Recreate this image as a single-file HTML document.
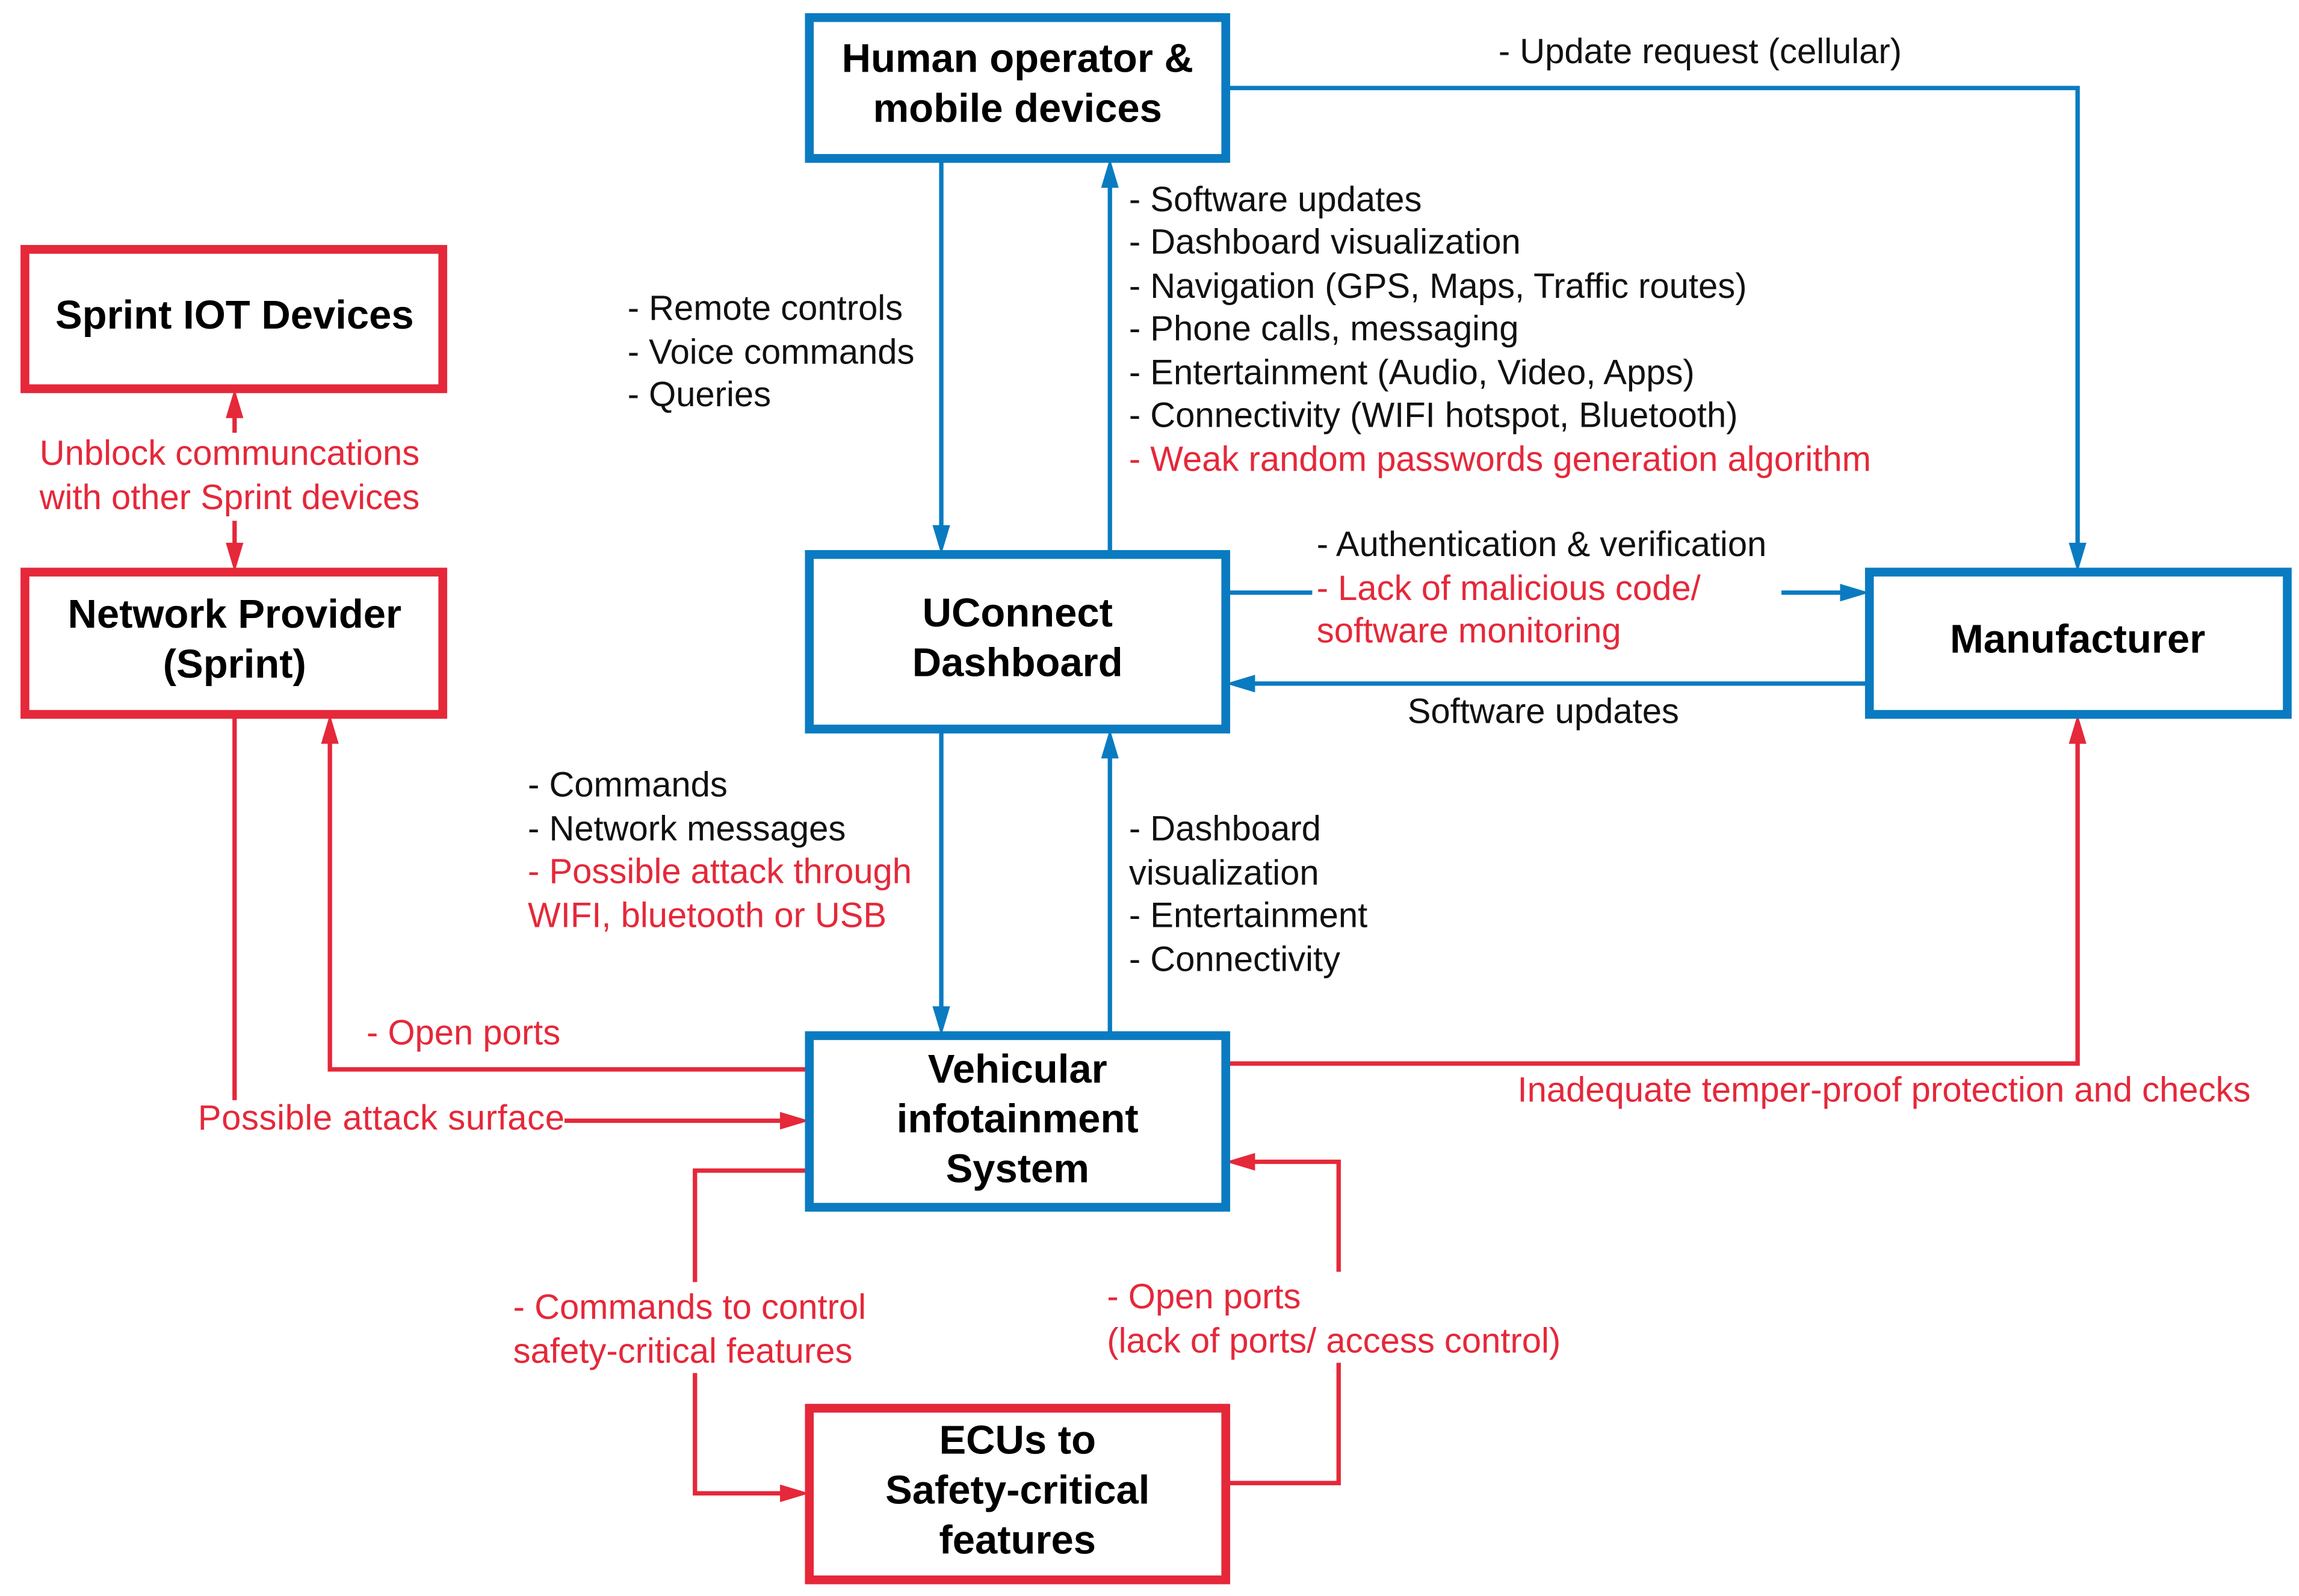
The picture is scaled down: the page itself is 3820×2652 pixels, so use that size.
<!DOCTYPE html>
<html><head><meta charset="utf-8"><style>html,body{margin:0;padding:0;background:#fff}svg{display:block}</style></head>
<body>
<svg width="3820" height="2652" viewBox="0 0 1568 1088" preserveAspectRatio="none" xmlns="http://www.w3.org/2000/svg" font-family="Liberation Sans, Arial, sans-serif">
<style>
.bb{fill:#fff;stroke:#0a7bc1;stroke-width:6}
.rb{fill:#fff;stroke:#e5283a;stroke-width:6}
.bl{fill:none;stroke:#0a7bc1;stroke-width:3}
.rl{fill:none;stroke:#e5283a;stroke-width:3}
.ba{fill:#0a7bc1}
.ra{fill:#e5283a}
.t{font-size:23.8px;fill:#111}
.r{font-size:23.8px;fill:#e5283a}
.h{font-size:27.5px;font-weight:bold;fill:#000;text-anchor:middle}
.w{fill:#fff}
</style>
<path class="bl" d="M642,108 V362"/><polygon class="ba" points="636,358 648,358 642,378"/>
<path class="bl" d="M757,378 V124"/><polygon class="ba" points="751,128 763,128 757,108"/>
<path class="bl" d="M836,60 H1417 V374"/><polygon class="ba" points="1411,370 1423,370 1417,390"/>
<path class="bl" d="M836,404 H895"/>
<path class="bl" d="M1215,404 H1259"/><polygon class="ba" points="1255,398 1255,410 1275,404"/>
<path class="bl" d="M1275,466 H852"/><polygon class="ba" points="856,460 856,472 836,466"/>
<path class="bl" d="M642,497 V690"/><polygon class="ba" points="636,686 648,686 642,706"/>
<path class="bl" d="M757,706 V513"/><polygon class="ba" points="751,517 763,517 757,497"/>
<path class="rl" d="M836,725 H1417 V503"/><polygon class="ra" points="1411,507 1423,507 1417,487"/>
<path class="rl" d="M552,729 H225 V503"/><polygon class="ra" points="219,507 231,507 225,487"/>
<path class="rl" d="M160,487 V750"/>
<path class="rl" d="M385,764 H536"/><polygon class="ra" points="532,758 532,770 552,764"/>
<path class="rl" d="M160,295 V281"/><polygon class="ra" points="154,285 166,285 160,265"/>
<path class="rl" d="M160,355 V374"/><polygon class="ra" points="154,370 166,370 160,390"/>
<path class="rl" d="M552,798 H474 V1018 H536"/><polygon class="ra" points="532,1012 532,1024 552,1018"/>
<path class="rl" d="M836,1011 H913 V792 H852"/><polygon class="ra" points="856,786 856,798 836,792"/>
<rect class="bb" x="552" y="12" width="284" height="96"/>
<text class="h" x="694" y="49">Human operator &amp;</text>
<text class="h" x="694" y="83">mobile devices</text>
<rect class="rb" x="17" y="170" width="285" height="95"/>
<text class="h" x="160" y="224">Sprint IOT Devices</text>
<rect class="rb" x="17" y="390" width="285" height="97"/>
<text class="h" x="160" y="428">Network Provider</text>
<text class="h" x="160" y="462">(Sprint)</text>
<rect class="bb" x="552" y="378" width="284" height="119"/>
<text class="h" x="694" y="427">UConnect</text>
<text class="h" x="694" y="461">Dashboard</text>
<rect class="bb" x="1275" y="390" width="285" height="97"/>
<text class="h" x="1417" y="445">Manufacturer</text>
<rect class="bb" x="552" y="706" width="284" height="117"/>
<text class="h" x="694" y="738">Vehicular</text>
<text class="h" x="694" y="772">infotainment</text>
<text class="h" x="694" y="806">System</text>
<rect class="rb" x="552" y="960" width="284" height="117"/>
<text class="h" x="694" y="991">ECUs to</text>
<text class="h" x="694" y="1025">Safety-critical</text>
<text class="h" x="694" y="1059">features</text>
<rect class="w" x="345" y="874" width="258" height="62"/>
<rect class="w" x="750" y="867" width="330" height="62"/>
<text class="t" x="1022" y="43">- Update request (cellular)</text>
<text class="t" x="770" y="144">- Software updates</text>
<text class="t" x="770" y="173">- Dashboard visualization</text>
<text class="t" x="770" y="203">- Navigation (GPS, Maps, Traffic routes)</text>
<text class="t" x="770" y="232">- Phone calls, messaging</text>
<text class="t" x="770" y="262">- Entertainment (Audio, Video, Apps)</text>
<text class="t" x="770" y="291">- Connectivity (WIFI hotspot, Bluetooth)</text>
<text class="r" x="770" y="321">- Weak random passwords generation algorithm</text>
<text class="t" x="428" y="218">- Remote controls</text>
<text class="t" x="428" y="248">- Voice commands</text>
<text class="t" x="428" y="277">- Queries</text>
<text class="r" x="27" y="317">Unblock communcations</text>
<text class="r" x="27" y="347">with other Sprint devices</text>
<text class="t" x="898" y="379">- Authentication &amp; verification</text>
<text class="r" x="898" y="409">- Lack of malicious code/</text>
<text class="r" x="898" y="438">software monitoring</text>
<text class="t" x="960" y="493">Software updates</text>
<text class="t" x="360" y="543">- Commands</text>
<text class="t" x="360" y="573">- Network messages</text>
<text class="r" x="360" y="602">- Possible attack through</text>
<text class="r" x="360" y="632">WIFI, bluetooth or USB</text>
<text class="t" x="770" y="573">- Dashboard</text>
<text class="t" x="770" y="603">visualization</text>
<text class="t" x="770" y="632">- Entertainment</text>
<text class="t" x="770" y="662">- Connectivity</text>
<text class="r" x="250" y="712">- Open ports</text>
<text class="r" x="135" y="770" textLength="250">Possible attack surface</text>
<text class="r" x="1035" y="751">Inadequate temper-proof protection and checks</text>
<text class="r" x="350" y="899">- Commands to control</text>
<text class="r" x="350" y="929">safety-critical features</text>
<text class="r" x="755" y="892">- Open ports</text>
<text class="r" x="755" y="922">(lack of ports/ access control)</text>
</svg>
</body></html>
